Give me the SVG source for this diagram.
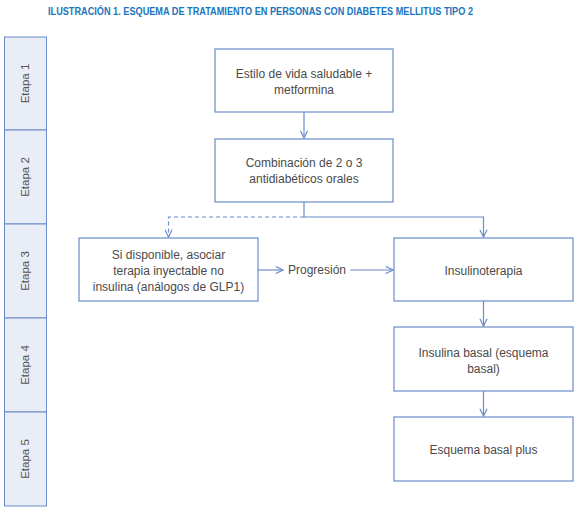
<svg xmlns="http://www.w3.org/2000/svg" width="580" height="510" viewBox="0 0 580 510">
<style>
.title{font-family:"Liberation Sans",Arial,sans-serif;font-weight:bold;font-size:11px;fill:#1b75bc}
.stage rect{fill:#e8edf8;stroke:#6a8cc8;stroke-width:1}
.stage text{font-family:"Liberation Sans",Arial,sans-serif;font-size:11.5px;fill:#555}
.box rect{fill:#fff;stroke:#6a8cc8;stroke-width:1.2}
.box text,.lbl{font-family:"Liberation Sans",Arial,sans-serif;font-size:12px;fill:#4a4a4a;text-anchor:middle}
.con{fill:none;stroke:#6a8cc8;stroke-width:1.2}
.dash{stroke-dasharray:4 3}
</style>
<defs>
<marker id="arr" viewBox="0 0 10 10" refX="9" refY="5" markerWidth="9" markerHeight="9" markerUnits="userSpaceOnUse" orient="auto">
<polyline points="1,1 9,5 1,9" fill="none" stroke="#6a8cc8" stroke-width="1.3"/>
</marker>
</defs>
<rect width="580" height="510" fill="#fff"/>
<text class="title" x="260.5" y="15" text-anchor="middle" textLength="425" lengthAdjust="spacingAndGlyphs">ILUSTRACIÓN 1. ESQUEMA DE TRATAMIENTO EN PERSONAS CON DIABETES MELLITUS TIPO 2</text>

<g id="stages" class="stage">
<g id="etapa1"><rect x="4.5" y="37" width="42" height="93"/><text transform="translate(29,83.5) rotate(-90)" text-anchor="middle">Etapa 1</text></g>
<g id="etapa2"><rect x="4.5" y="130" width="42" height="94"/><text transform="translate(29,177) rotate(-90)" text-anchor="middle">Etapa 2</text></g>
<g id="etapa3"><rect x="4.5" y="224" width="42" height="94"/><text transform="translate(29,271) rotate(-90)" text-anchor="middle">Etapa 3</text></g>
<g id="etapa4"><rect x="4.5" y="318" width="42" height="94"/><text transform="translate(29,365) rotate(-90)" text-anchor="middle">Etapa 4</text></g>
<g id="etapa5"><rect x="4.5" y="412" width="42" height="94"/><text transform="translate(29,459) rotate(-90)" text-anchor="middle">Etapa 5</text></g>
</g>

<g id="connectors">
<line class="con" x1="304" y1="112" x2="304" y2="138" marker-end="url(#arr)"/>
<polyline class="con" points="304,202 304,217 483.5,217 483.5,237" marker-end="url(#arr)"/>
<polyline class="con dash" points="304,217 168.5,217 168.5,237" marker-end="url(#arr)"/>
<line class="con" x1="258" y1="270" x2="283" y2="270" marker-end="url(#arr)"/>
<line class="con" x1="350" y1="270" x2="393" y2="270" marker-end="url(#arr)"/>
<line class="con" x1="483.5" y1="301" x2="483.5" y2="326" marker-end="url(#arr)"/>
<line class="con" x1="483.5" y1="391" x2="483.5" y2="416" marker-end="url(#arr)"/>
<text class="lbl" x="317" y="274">Progresión</text>
</g>

<g id="n1" class="box"><rect x="215" y="49" width="178" height="63"/><text x="304" y="78">Estilo de vida saludable +</text><text x="304" y="94">metformina</text></g>
<g id="n2" class="box"><rect x="215" y="139" width="178" height="63"/><text x="304" y="167">Combinación de 2 o 3</text><text x="304" y="183">antidiabéticos orales</text></g>
<g id="n3" class="box"><rect x="79" y="238" width="179" height="63"/><text x="168.5" y="259">Si disponible, asociar</text><text x="168.5" y="275">terapia inyectable no</text><text x="168.5" y="291">insulina (análogos de GLP1)</text></g>
<g id="n4" class="box"><rect x="394" y="238" width="179" height="63"/><text x="483.5" y="275">Insulinoterapia</text></g>
<g id="n5" class="box"><rect x="394" y="327" width="179" height="64"/><text x="483.5" y="357">Insulina basal (esquema</text><text x="483.5" y="373">basal)</text></g>
<g id="n6" class="box"><rect x="394" y="417" width="179" height="64"/><text x="483.5" y="454">Esquema basal plus</text></g>
</svg>
